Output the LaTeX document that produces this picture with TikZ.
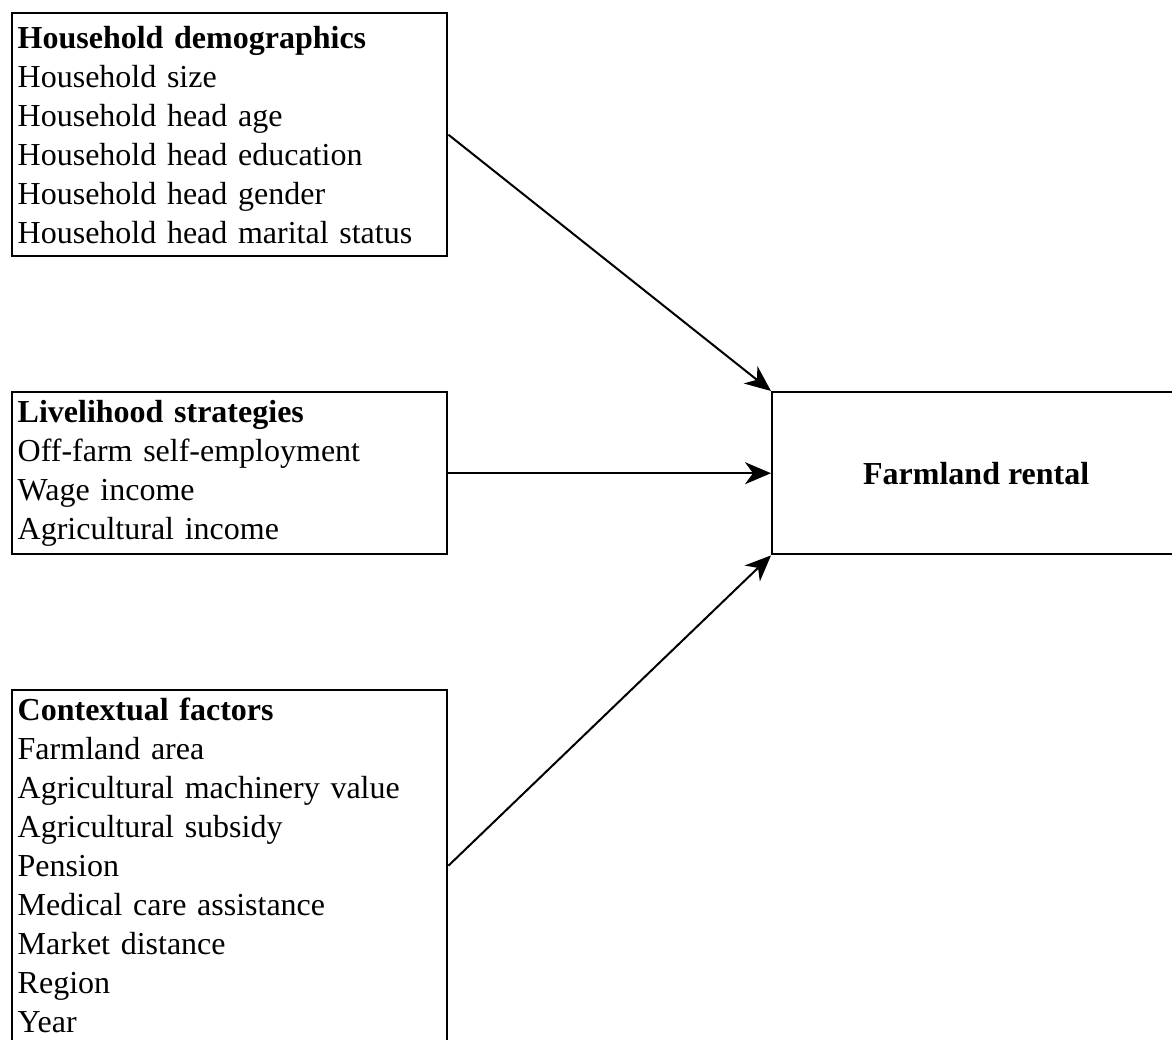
\documentclass[tikz,border=0pt]{standalone}
\usepackage{fontspec}
\setmainfont{Liberation Serif}
\usetikzlibrary{positioning, arrows.meta}

\begin{document}
\begin{tikzpicture}[x=0.5pt, y=-0.5pt,
    factorbox/.style={draw, line width=1.2pt, anchor=north west, align=left,
        text width=212pt, inner xsep=2.75pt, inner ysep=0pt,
        font=\fontsize{16pt}{19.5pt}\selectfont},
    outcomebox/.style={draw, line width=1.2pt, anchor=north west,
        minimum width=204pt, minimum height=81pt,
        font=\fontsize{16pt}{19pt}\selectfont\bfseries},
    link/.style={line width=1pt, -{Stealth[length=13pt, width=11pt, inset=4pt]}}]
            \useasboundingbox (0,0) rectangle (1172,1039);
            \clip (0,0) rectangle (1172,1039);
            \node[factorbox, minimum height=121.5pt] (demo) at (11,12) {\textbf{Household demographics}\\Household size\\Household head age\\Household head education\\Household head gender\\Household head marital status};
            \node[factorbox, minimum height=81pt] (live) at (11,391) {\textbf{Livelihood strategies}\\Off-farm self-employment\\Wage income\\Agricultural income};
            \node[factorbox, minimum height=175.5pt] (context) at (11,689) {\textbf{Contextual factors}\\Farmland area\\Agricultural machinery value\\Agricultural subsidy\\Pension\\Medical care assistance\\Market distance\\Region\\Year};
            \node[outcomebox] (rental) at (771,391) {Farmland rental};
            \draw[link] (demo.east) -- (rental.north west);
            \draw[link] (live.east) -- (rental.west);
            \draw[link] (context.east) -- (rental.south west);
        \end{tikzpicture}
\end{document}
